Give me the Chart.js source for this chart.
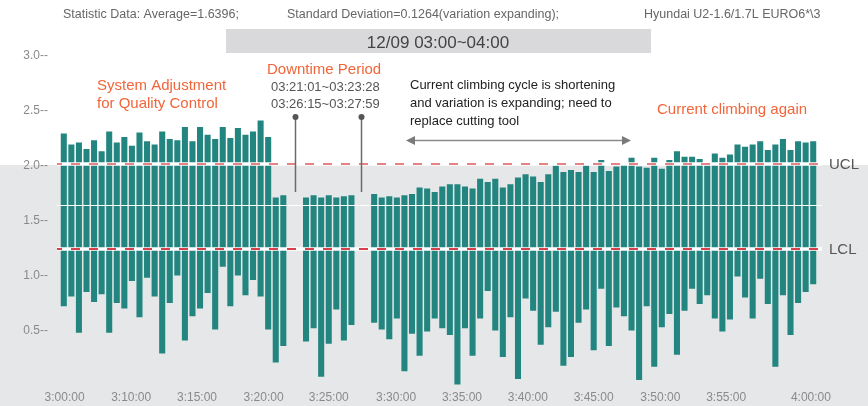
<!DOCTYPE html>
<html>
<head>
<meta charset="utf-8">
<script src="https://cdn.jsdelivr.net/npm/chart.js@4/dist/chart.umd.min.js"></script>
<style>
  html, body { margin: 0; padding: 0; background: #fff; }
  #wrap { width: 868px; height: 406px; }
</style>
</head>
<body>
<div id="wrap"><canvas id="spcChart" width="868" height="406"></canvas></div>
<script>
/* ------------------------------------------------------------
   DATA — one bar per sample slot (null = downtime)
------------------------------------------------------------- */
const highs = [
    2.29, 2.19, 2.21, 2.15, 2.23, 2.13, 2.31, 2.21, 2.26, 2.18,
    2.30, 2.22, 2.19, 2.31, 2.24, 2.23, 2.35, 2.22, 2.35, 2.28,
    2.24, 2.35, 2.25, 2.34, 2.28, 2.31, 2.41, 2.26, 1.71, 1.73,
    null, null,
    1.71, 1.73, 1.71, 1.73, 1.71, 1.72, 1.73,
    null, null,
    1.74, 1.71, 1.72, 1.71, 1.73, 1.74, 1.80, 1.79, 1.76, 1.81,
    1.83, 1.83, 1.81, 1.79, 1.88, 1.85, 1.88, 1.80, 1.83, 1.89,
    1.92, 1.90, 1.85, 1.92, 2.00, 1.94, 1.96, 1.94, 2.00, 1.94,
    2.05, 1.95, 1.99, 2.01, 2.07, 1.99, 1.98, 2.07, 1.97, 2.05,
    2.13, 2.08, 2.08, 2.06, 2.00, 2.11, 2.07, 2.10, 2.19, 2.17,
    2.19, 2.22, 2.14, 2.19, 2.24, 2.14, 2.22, 2.21, 2.22
];

const lows = [
    0.72, 0.81, 0.48, 0.85, 0.76, 0.83, 0.48, 0.75, 0.70, 0.95,
    0.62, 0.98, 0.81, 0.29, 0.75, 1.00, 0.41, 0.63, 0.70, 0.84,
    0.51, 1.08, 0.72, 1.00, 0.82, 0.96, 0.81, 0.51, 0.21, 0.36,
    null, null,
    0.40, 0.52, 0.08, 0.38, 0.69, 0.41, 0.55,
    null, null,
    0.57, 0.51, 0.42, 0.61, 0.13, 0.47, 0.27, 0.49, 0.61, 0.52,
    0.46, 0.01, 0.52, 0.27, 0.61, 0.86, 0.50, 0.26, 0.62, 0.06,
    0.79, 0.68, 0.37, 0.53, 0.67, 0.18, 0.26, 0.57, 0.69, 0.32,
    0.88, 0.36, 0.71, 0.63, 0.50, 0.05, 0.72, 0.17, 0.53, 0.65,
    0.28, 0.68, 0.88, 0.74, 0.82, 0.61, 0.49, 0.60, 0.99, 0.80,
    0.61, 0.97, 0.74, 0.17, 0.82, 0.46, 0.75, 0.85, 0.92
];

const slotLabels = highs.map((_, i) => String(i + 1));

// time labels and the slot position they sit on
const tickLabels = ["3:00:00", "3:10:00", "3:15:00", "3:20:00", "3:25:00", "3:30:00",
                    "3:35:00", "3:40:00", "3:45:00", "3:50:00", "3:55:00", "4:00:00"];
const tickSlots  = [0.1, 8.9, 17.6, 26.4, 35.0, 43.9, 52.6, 61.3, 70.0, 78.8, 87.5, 98.7];

const yTicks = [0.5, 1.0, 1.5, 2.0, 2.5, 3.0];

const AVERAGE = 1.6396;
const UCL = 2.018;
const LCL = 1.245;

const FONT = '"Liberation Sans", Arial, Helvetica, sans-serif';
const ORANGE = "#f2653a";
const TEAL = "#22857f";


/* ------------------------------------------------------------
   PLUGINS — grey band, control lines, annotations
------------------------------------------------------------- */
const spcBackground = {
    id: "spcBackground",
    beforeDraw(chart) {
        const { ctx, scales } = chart;
        const top = scales.y.getPixelForValue(UCL) + 1.5;
        ctx.save();
        ctx.fillStyle = "#e6e7e9";
        ctx.fillRect(0, top, chart.width, chart.height - top);

        // header box
        ctx.fillStyle = "#d9d9db";
        ctx.fillRect(226, 29, 425, 24);
        ctx.restore();
    }
};

const controlLines = {
    id: "controlLines",
    afterDatasetsDraw(chart) {
        const { ctx, chartArea, scales } = chart;
        const x0 = chartArea.left - 3;
        const x1 = chartArea.right + 5;

        ctx.save();
        // average line
        const ya = Math.round(scales.y.getPixelForValue(AVERAGE)) + 0.5;
        ctx.strokeStyle = "#ffffff";
        ctx.lineWidth = 1.2;
        ctx.beginPath();
        ctx.moveTo(x0, ya);
        ctx.lineTo(x1, ya);
        ctx.stroke();

        [[UCL, "rgba(221,90,95,0.75)", "UCL"], [LCL, "#d8404a", "LCL"]].forEach(([val, col, name]) => {
            const y = Math.round(scales.y.getPixelForValue(val));
            ctx.setLineDash([]);
            ctx.strokeStyle = "#ffffff";
            ctx.lineWidth = 3.5;
            ctx.beginPath();
            ctx.moveTo(x0, y);
            ctx.lineTo(x1, y);
            ctx.stroke();

            ctx.setLineDash([9, 9]);
            ctx.lineDashOffset = 4;
            ctx.strokeStyle = col;
            ctx.lineWidth = 2;
            ctx.beginPath();
            ctx.moveTo(x0, y);
            ctx.lineTo(x1, y);
            ctx.stroke();

            ctx.setLineDash([]);
            ctx.fillStyle = "#555555";
            ctx.font = "15px " + FONT;
            ctx.textBaseline = "middle";
            ctx.textAlign = "left";
            ctx.fillText(name, x1 + 7, y + 1);
        });
        ctx.restore();
    }
};

const annotations = {
    id: "annotations",
    afterDraw(chart) {
        const { ctx, scales } = chart;
        ctx.save();
        ctx.textBaseline = "alphabetic";
        ctx.textAlign = "left";

        // header line
        ctx.fillStyle = "#666666";
        ctx.font = "12.5px " + FONT;
        ctx.fillText("Statistic Data: Average=1.6396;", 63, 17.5);
        ctx.fillText("Standard Deviation=0.1264(variation expanding);", 287, 17.5);
        ctx.fillText("Hyundai U2-1.6/1.7L EURO6*\\3", 644, 17.5);

        ctx.fillStyle = "#444444";
        ctx.font = "17px " + FONT;
        ctx.textAlign = "center";
        ctx.fillText("12/09 03:00~04:00", 438, 48);
        ctx.textAlign = "left";

        // orange notes
        ctx.fillStyle = ORANGE;
        ctx.font = "15px " + FONT;
        ctx.fillText("System Adjustment", 97, 90);
        ctx.fillText("for Quality Control", 97, 108);
        ctx.fillText("Downtime Period", 267, 73.5);
        ctx.fillText("Current climbing again", 657, 113.5);

        ctx.fillStyle = "#555555";
        ctx.font = "13px " + FONT;
        ctx.fillText("03:21:01~03:23:28", 271, 91);
        ctx.fillText("03:26:15~03:27:59", 271, 108);

        ctx.fillStyle = "#222222";
        ctx.font = "13px " + FONT;
        ctx.fillText("Current climbing cycle is shortening", 410, 88.5);
        ctx.fillText("and variation is expanding; need to", 410, 106.5);
        ctx.fillText("replace cutting tool", 410, 125);

        // downtime pins
        ctx.strokeStyle = "#6a6a6a";
        ctx.fillStyle = "#555555";
        ctx.lineWidth = 1.5;
        [30.5, 39.2].forEach(slot => {
            const x = Math.round(scales.xt.getPixelForValue(slot)) + 0.5;
            ctx.beginPath();
            ctx.moveTo(x, 117);
            ctx.lineTo(x, 192);
            ctx.stroke();
            ctx.beginPath();
            ctx.arc(x, 117, 3, 0, Math.PI * 2);
            ctx.fill();
        });

        // double arrow
        const ay = 140.5;
        ctx.strokeStyle = "#8a8a8a";
        ctx.fillStyle = "#7a7a7a";
        ctx.lineWidth = 1.5;
        ctx.beginPath();
        ctx.moveTo(410, ay);
        ctx.lineTo(626, ay);
        ctx.stroke();
        ctx.beginPath();
        ctx.moveTo(406, ay);
        ctx.lineTo(415, ay - 4.5);
        ctx.lineTo(415, ay + 4.5);
        ctx.closePath();
        ctx.fill();
        ctx.beginPath();
        ctx.moveTo(631, ay);
        ctx.lineTo(622, ay - 4.5);
        ctx.lineTo(622, ay + 4.5);
        ctx.closePath();
        ctx.fill();
        ctx.restore();
    }
};


/* ------------------------------------------------------------
   CHART — floating bars (low → high per sample)
------------------------------------------------------------- */
const spcCanvas = document.querySelector("#spcChart");

new Chart(spcCanvas, {
    type: "bar",
    data: {
        labels: slotLabels,
        datasets: [{
            data: highs.map((h, i) => (h === null ? null : [lows[i], h])),
            backgroundColor: TEAL,
            borderWidth: 0,
            barPercentage: 0.8,
            categoryPercentage: 1.0
        }]
    },
    options: {
        responsive: false,
        animation: false,
        layout: { padding: { top: 55.5, right: 51, bottom: 0, left: 0 } },
        plugins: {
            legend: { display: false },
            tooltip: { enabled: false }
        },
        scales: {
            x: {
                type: "category",
                display: false,
                offset: true
            },
            xt: {
                type: "linear",
                position: "bottom",
                offset: false,
                min: -0.5,
                max: 99.5,
                grid: { display: false, drawTicks: false, offset: false },
                border: { display: false },
                afterBuildTicks: axis => {
                    axis.ticks = tickSlots.map(v => ({ value: v }));
                },
                afterFit: axis => { axis.height = 20.5; },
                ticks: {
                    autoSkip: false,
                    maxRotation: 0,
                    padding: 5,
                    color: "#8a8a8a",
                    font: { family: FONT, size: 12 },
                    callback: (v, i) => tickLabels[i]
                }
            },
            y: {
                min: 0,
                max: 3,
                grid: { display: false, drawTicks: false },
                border: { display: false },
                afterBuildTicks: axis => {
                    axis.ticks = yTicks.map(v => ({ value: v }));
                },
                afterFit: axis => { axis.width = 60; },
                ticks: {
                    padding: 12,
                    color: "#8a8a8a",
                    font: { family: FONT, size: 12 },
                    callback: v => v.toFixed(1) + "--"
                }
            }
        }
    },
    plugins: [spcBackground, controlLines, annotations]
});
</script>
</body>
</html>
